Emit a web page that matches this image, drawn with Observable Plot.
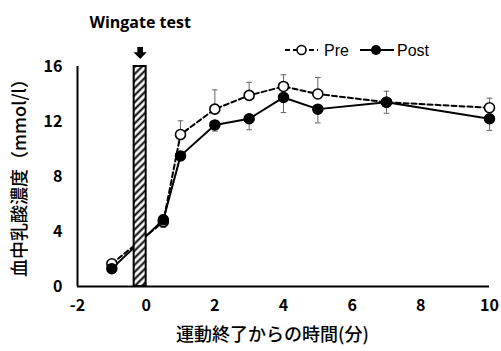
<!DOCTYPE html>
<html>
<head>
<meta charset="utf-8">
<script src="https://cdn.jsdelivr.net/npm/d3@7"></script>
<script src="https://cdn.jsdelivr.net/npm/@observablehq/plot@0.6"></script>
<style>
  html, body { margin: 0; padding: 0; background: #fff; }
  #wrap { position: relative; width: 501px; height: 351px; }
  #legend { position: absolute; left: 280px; top: 38px; }
</style>
</head>
<body>
<div id="wrap"></div>
<script>
// ---- data ----
const times    = [-1, 0.5, 1, 2, 3, 4, 5, 7, 10];
const preMean  = [1.65, 4.7, 11.05, 12.9, 13.9, 14.55, 14.0, 13.4, 13.0];
const preSD    = [0.15, 0.5, 1.0, 1.4, 0.95, 0.85, 1.2, 0.8, 0.7];
const postMean = [1.3, 4.85, 9.5, 11.75, 12.2, 13.75, 12.9, 13.4, 12.2];
const postSD   = [0.15, 0.55, 0.3, 0.45, 0.8, 1.1, 1.0, 0.8, 0.85];
const xTicks   = [-2, 0, 2, 4, 6, 8, 10];
const yTicks   = [0, 4, 8, 12, 16];
const exerciseStart = -0.35, exerciseEnd = 0, exerciseTop = 16;
const exerciseLabel = "Wingate test";
const seriesNames = ["Pre", "Post"];
const xTitle = "運動終了からの時間(分)";
const yTitle = "血中乳酸濃度（mmol/l）";

const pre  = times.map((t, i) => ({t, v: preMean[i],  e: preSD[i]}));
const post = times.map((t, i) => ({t, v: postMean[i], e: postSD[i]}));
const bar  = [{x1: exerciseStart, x2: exerciseEnd, y1: 0, y2: exerciseTop}];
const barMid = [{x: (exerciseStart + exerciseEnd) / 2, y: exerciseTop}];

// custom symbols
const capSymbol = {draw(ctx, size) { const r = Math.sqrt(size) / 2; ctx.moveTo(-r, 0); ctx.lineTo(r, 0); }};
const arrowSymbol = {draw(ctx) {
  ctx.moveTo(-2.8, -6); ctx.lineTo(2.8, -6); ctx.lineTo(2.8, -0.8);
  ctx.lineTo(6.6, -0.8); ctx.lineTo(0, 6); ctx.lineTo(-6.6, -0.8);
  ctx.lineTo(-2.8, -0.8); ctx.closePath();
}};

const defs = () => {
  const d = d3.create("svg:defs");
  const p = d.append("pattern").attr("id", "hatch").attr("patternUnits", "userSpaceOnUse")
    .attr("width", 5).attr("height", 5).attr("patternTransform", "rotate(45)");
  p.append("rect").attr("width", 5).attr("height", 5).attr("fill", "white");
  p.append("line").attr("x1", 2.5).attr("y1", -1).attr("x2", 2.5).attr("y2", 6)
    .attr("stroke", "black").attr("stroke-width", 2);
  return d.node();
};

const font = "'Noto Sans CJK JP', 'Noto Sans', sans-serif";
const fmt = d => String(d);

const chart = Plot.plot({
  width: 501, height: 351,
  marginLeft: 77, marginRight: 12, marginTop: 66, marginBottom: 65,
  style: {fontFamily: font, background: "white", color: "black"},
  x: {domain: [-2, 10]},
  y: {domain: [0, 16]},
  marks: [
    defs,
    Plot.axisX(xTicks, {tickSize: 0, tickPadding: 13, fontSize: 16, fontWeight: "bold", tickFormat: fmt, label: null}),
    Plot.axisY(yTicks, {tickSize: 0, tickPadding: 15, fontSize: 16, fontWeight: "bold", tickFormat: fmt, label: null}),
    // error bars
    Plot.ruleX(pre,  {x: "t", y1: "v", y2: d => d.v + d.e, stroke: "#666", strokeWidth: 1}),
    Plot.dot(pre,    {x: "t", y: d => d.v + d.e, symbol: capSymbol, r: 3.2, stroke: "#666", strokeWidth: 1}),
    Plot.ruleX(post, {x: "t", y1: "v", y2: d => d.v - d.e, stroke: "#666", strokeWidth: 1}),
    Plot.dot(post,   {x: "t", y: d => d.v - d.e, symbol: capSymbol, r: 3.2, stroke: "#666", strokeWidth: 1}),
    // lines
    Plot.line(pre,  {x: "t", y: "v", stroke: "black", strokeWidth: 2, strokeDasharray: "5,3"}),
    Plot.line(post, {x: "t", y: "v", stroke: "black", strokeWidth: 2}),
    // exercise bar
    Plot.rect(bar, {x1: "x1", x2: "x2", y1: "y1", y2: "y2", fill: "url(#hatch)", stroke: "black", strokeWidth: 2}),
    Plot.dot(barMid, {x: "x", y: "y", dy: -13.5, symbol: arrowSymbol, fill: "black", stroke: "none"}),
    Plot.text(barMid, {x: "x", y: "y", dy: -44, text: () => exerciseLabel, fontSize: 16, fontWeight: "bold",
      fontFamily: "'Open Sans', sans-serif", textAnchor: "middle"}),
    // dots
    Plot.dot(pre,  {x: "t", y: "v", r: 5, fill: "white", stroke: "black", strokeWidth: 1.6}),
    Plot.dot(post, {x: "t", y: "v", r: 5, fill: "black", stroke: "black"}),
    // axis lines
    Plot.ruleX([-2], {strokeWidth: 2}),
    Plot.ruleY([0], {strokeWidth: 2}),
    // titles
    Plot.text([xTitle], {frameAnchor: "bottom", dy: 54, dx: -11, textAnchor: "middle", fontSize: 18, fontWeight: 500}),
    Plot.text([yTitle], {frameAnchor: "left", dx: -57, dy: -3, rotate: -90, textAnchor: "middle", fontSize: 18, fontWeight: 500})
  ]
});

const wrap = document.getElementById("wrap");
wrap.appendChild(chart);

// legend overlay
const leg = d3.select(wrap).append("svg").attr("id", "legend").attr("width", 160).attr("height", 24)
  .style("font-family", "'Liberation Sans', Arial, sans-serif").style("font-size", "16px");
const cy = 12;
leg.append("line").attr("x1", 5).attr("x2", 38).attr("y1", cy).attr("y2", cy)
  .attr("stroke", "black").attr("stroke-width", 2).attr("stroke-dasharray", "5,3");
leg.append("circle").attr("cx", 21.5).attr("cy", cy).attr("r", 4.5).attr("fill", "white").attr("stroke", "black").attr("stroke-width", 1.6);
leg.append("text").attr("x", 44).attr("y", cy).attr("dy", "0.35em").text(seriesNames[0]);
leg.append("line").attr("x1", 80).attr("x2", 114).attr("y1", cy).attr("y2", cy)
  .attr("stroke", "black").attr("stroke-width", 2);
leg.append("circle").attr("cx", 96).attr("cy", cy).attr("r", 5).attr("fill", "black");
leg.append("text").attr("x", 117).attr("y", cy).attr("dy", "0.35em").text(seriesNames[1]);
</script>
</body>
</html>
